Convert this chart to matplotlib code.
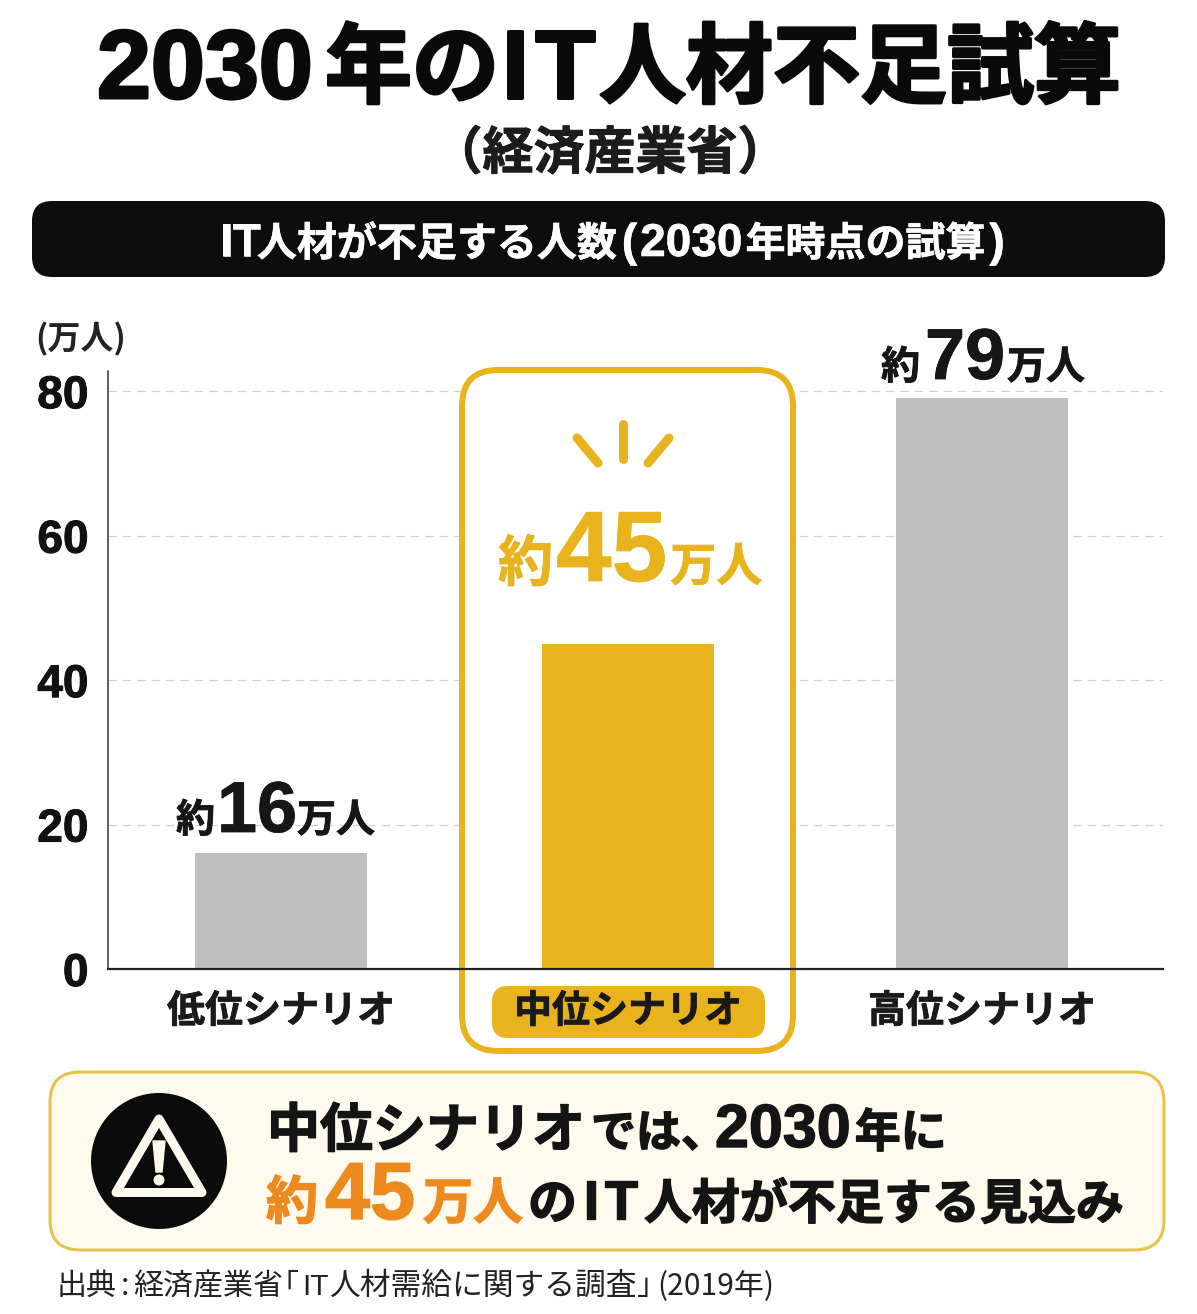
import matplotlib
matplotlib.use('Agg')
import matplotlib.pyplot as plt
import matplotlib.patheffects as pe
from matplotlib.patches import FancyBboxPatch, Circle, Polygon

# Datos del gráfico
escenarios = ['低位シナリオ', '中位シナリオ', '高位シナリオ']
faltantes = [16, 45, 79]
marcas_y = [0, 20, 40, 60, 80]

GRIS = '#bfbfbf'
AMARILLO = '#e9b31d'
NARANJA = '#ec8a1e'
NEGRO = '#111111'
JP = 'Noto Sans CJK JP'
LAT = 'Liberation Sans'

W, H = 1197, 1314
PX = 0.72  # un pixel en puntos a 100 dpi

fig = plt.figure(figsize=(W / 100, H / 100), dpi=100, facecolor='white')

# Eje del gráfico de barras, con x en pixeles de la figura
ax = fig.add_axes([108 / W, 1 - 969 / H, (1163 - 108) / W, (969 - 371) / H])
ax.set_facecolor('none')
ax.set_xlim(108, 1163)
ax.set_ylim(0, 82.8)
ax.spines['top'].set_visible(False)
ax.spines['right'].set_visible(False)
ax.spines['left'].set_linewidth(1.5 * PX)
ax.spines['bottom'].set_linewidth(2.2 * PX)
ax.spines['left'].set_color('#333333')
ax.spines['bottom'].set_color('#222222')
for s in ax.spines.values():
    s.set_zorder(5)
ax.yaxis.grid(True, color='#cfcfcf', linestyle=(0, (7, 5)), linewidth=1.2 * PX)
ax.set_axisbelow(True)

centros = [281, 628, 982]
ax.bar(centros, faltantes, width=172, color=[GRIS, AMARILLO, GRIS], zorder=3)

ax.set_yticks(marcas_y)
ax.set_yticklabels([str(v) for v in marcas_y], family=LAT, fontweight='bold',
                   fontsize=46 * PX, color=NEGRO, va='center_baseline',
                   path_effects=[pe.withStroke(linewidth=1.0 * PX, foreground=NEGRO)])
ax.tick_params(axis='y', length=0, pad=14)
ax.set_xticks(centros)
ax.set_xticklabels([])
ax.tick_params(axis='x', length=0)

# Nombres de escenario por encima de la píldora y del recuadro
for cx, nombre in zip(centros, escenarios):
    ax.annotate(nombre, xy=(cx, 0), xytext=(0, -42 * PX), textcoords='offset points',
                ha='center', va='center', family=JP, fontweight='bold', fontsize=38 * PX,
                color='#1a1a1a', annotation_clip=False, zorder=7,
                path_effects=[pe.withStroke(linewidth=0.8 * PX, foreground='#1a1a1a')])

# Capa superior en coordenadas de pixel
capa = fig.add_axes([0, 0, 1, 1], zorder=10)
capa.set_xlim(0, W)
capa.set_ylim(H, 0)
capa.axis('off')
capa.patch.set_alpha(0)

render = fig.canvas.get_renderer()


def caja(x0, y0, x1, y1, radio, cara, borde='none', grosor=0, destino=None, zorder=2):
    p = FancyBboxPatch((x0, y0), x1 - x0, y1 - y0,
                       boxstyle=f'round,pad=0,rounding_size={radio}',
                       facecolor=cara, edgecolor=borde, linewidth=grosor * PX,
                       transform=capa.transData, clip_on=False, zorder=zorder)
    (destino or capa).add_patch(p)
    return p


def tramos(x, base, partes, color=NEGRO, peso='bold', trazo=0.0):
    # partes: (texto, tamaño en px, fuente, hueco antes, [color])
    for parte in partes:
        texto, tam, fuente, hueco = parte[:4]
        col = parte[4] if len(parte) > 4 else color
        x += hueco
        t = capa.text(x, base, texto, family=fuente, fontweight=peso, fontsize=tam * PX,
                      color=col, ha='left', va='baseline', zorder=8)
        if trazo:
            t.set_path_effects([pe.withStroke(linewidth=trazo * PX, foreground=col)])
        x += t.get_window_extent(render).width
    return x


# Titulo y subtitulo
x = tramos(97, 98, [('2030', 97, LAT, 0)], color='#0a0a0a', trazo=3.0)
x = tramos(x, 96, [('年の', 87, JP, 12)], color='#0a0a0a', trazo=3.0)
x = tramos(x, 98, [('I', 98, LAT, 2), ('T', 98, LAT, 7)], color='#0a0a0a', trazo=3.0)
tramos(x, 96, [('人材不足試算', 87, JP, 4)], color='#0a0a0a', trazo=3.0)
capa.text(610, 169, '（経済産業省）', family=JP, fontweight='bold', fontsize=51 * PX,
          color='#1c1c1c', ha='center', va='baseline',
          path_effects=[pe.withStroke(linewidth=1.0 * PX, foreground='#1c1c1c')])

# Banda negra de cabecera
caja(32, 201, 1165, 277, 20, '#0d0d0d')
tramos(220, 256, [('IT', 46, LAT, 0), ('人材が不足する人数', 40, JP, -4), ('(', 46, LAT, 5),
                  ('2030', 46, LAT, 3), ('年時点の試算', 40, JP, 3), (')', 46, LAT, 4)],
       color='white', trazo=0.6)

tramos(35, 349, [('(万人)', 33, JP, 0)], color='#222222')

# Recuadro del escenario medio, por encima de la rejilla y por debajo de la barra
caja(462, 370, 793, 1051, 36, 'white', AMARILLO, 6, destino=ax, zorder=2)
caja(492, 986, 765, 1038, 16, AMARILLO, destino=ax, zorder=2.5)

# Rayos sobre la cifra central
for xs, ys in [((577, 598), (438, 463)), ((623, 623), (424, 459)), ((669, 648), (438, 463))]:
    capa.plot(xs, ys, color=AMARILLO, linewidth=9 * PX, solid_capstyle='round')

# Cifras de cada barra
tramos(176, 832, [('約', 39, JP, 0), (str(faltantes[0]), 72, LAT, 2), ('万人', 39, JP, 0)],
       color='#161616', trazo=0.8)
tramos(498, 581, [('約', 55, JP, 0), (str(faltantes[1]), 100, LAT, 3), ('万人', 46, JP, 3)],
       color=AMARILLO, trazo=0.8)
tramos(881, 379, [('約', 39, JP, 0), (str(faltantes[2]), 72, LAT, 5), ('万人', 39, JP, 2)],
       color='#161616', trazo=0.8)

# Recuadro inferior
caja(50, 1072, 1164, 1250, 30, '#fefaed', '#e6c24a', 3)
CREMA = '#fdf9ec'
capa.add_patch(Circle((159, 1161), 68, facecolor='#0b0b0b', edgecolor='none', zorder=3))
capa.add_patch(Polygon([(159, 1119), (116, 1192.5), (202, 1192.5)], closed=True, facecolor='none',
                       edgecolor=CREMA, linewidth=9 * PX, joinstyle='round', zorder=4))
capa.add_patch(Polygon([(153, 1141), (165, 1141), (162, 1172), (156, 1172)], closed=True,
                       facecolor=CREMA, edgecolor=CREMA, linewidth=1, joinstyle='round', zorder=4))
capa.add_patch(Circle((159, 1180), 5.5, facecolor=CREMA, edgecolor='none', zorder=4))

tramos(267, 1147, [('中位シナリオ', 53, JP, 0), ('では、', 45, JP, 6), ('2030', 61, LAT, -11),
                   ('年に', 46, JP, 4)], color='#141414', trazo=1.4)
tramos(266, 1219, [('約', 52, JP, 0, NARANJA), (str(faltantes[1]), 81, LAT, 7, NARANJA),
                   ('万人', 50, JP, 8, NARANJA), ('の', 49, JP, 5), ('I', 55, LAT, 6),
                   ('T', 55, LAT, 6), ('人材が不足する見込み', 48, JP, 6)],
       color='#141414', trazo=1.4)

# Fuente
tramos(57, 1295, [('出典', 30, JP, 0), (':', 30, JP, 4), ('経済産業省', 30, JP, 4),
                  ('｢', 30, JP, 0), ('IT', 30, LAT, 4), ('人材需給に関する調査', 30.8, JP, 0),
                  ('｣', 30, JP, 0), ('(2019年)', 30, JP, 6)], color='#222222', peso='normal')

fig.savefig('out.png', dpi=100, facecolor='white')
